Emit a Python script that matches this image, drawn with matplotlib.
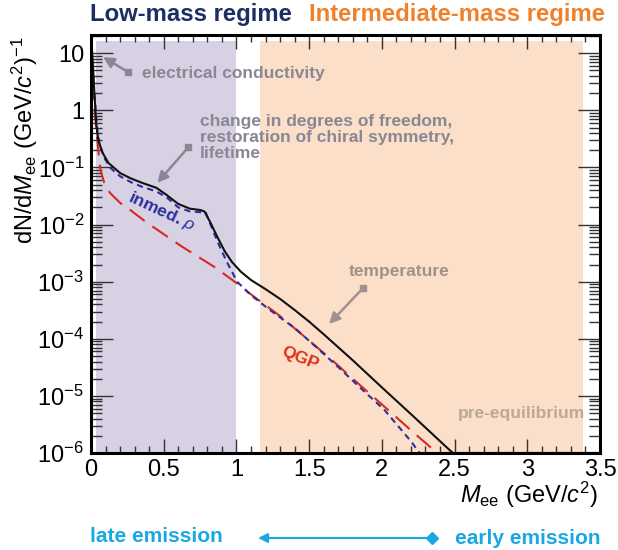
import matplotlib
matplotlib.use("Agg")
import matplotlib.pyplot as plt
import numpy as np
from matplotlib.ticker import FixedLocator, MultipleLocator, LogLocator, NullFormatter, FuncFormatter
from matplotlib.patches import FancyArrowPatch
from matplotlib.lines import Line2D

plt.rcParams['font.family'] = ['Liberation Sans', 'DejaVu Sans']
plt.rcParams['mathtext.fontset'] = 'custom'
plt.rcParams['mathtext.rm'] = 'Liberation Sans'
plt.rcParams['mathtext.it'] = 'Liberation Sans:italic'
plt.rcParams['mathtext.bf'] = 'Liberation Sans:bold'

# ---- dilepton mass spectra ----
m_total = [0.005, 0.02, 0.035, 0.05, 0.08, 0.12, 0.2, 0.27, 0.35, 0.45, 0.52, 0.6, 0.68,
           0.75, 0.78, 0.82, 0.87, 0.92, 0.97, 1.03, 1.1, 1.2, 1.3, 1.4, 1.5, 1.6, 1.7,
           1.8, 2.0, 2.2, 2.47, 2.49, 3.5]
dn_total = [14, 3.0, 0.6, 0.3, 0.18, 0.12, 0.08, 0.065, 0.054, 0.044, 0.033, 0.023, 0.019,
            0.018, 0.017, 0.011, 0.006, 0.0034, 0.0022, 0.0015, 1.07e-3, 7.4e-4, 5.0e-4,
            3.2e-4, 2.0e-4, 1.2e-4, 7.1e-5, 4.2e-5, 1.41e-5, 4.8e-6, 1.1e-6, 1e-6, 1e-6]

m_rho = [0.005, 0.02, 0.03, 0.045, 0.06, 0.09, 0.13, 0.2, 0.27, 0.35, 0.45, 0.52, 0.6,
         0.68, 0.75, 0.79, 0.87, 0.935, 1.005, 1.1, 1.23, 1.4, 1.55, 1.7, 1.85, 2.02,
         2.12, 2.2, 2.26, 3.5]
dn_rho = [11, 2.5, 1.2, 0.4, 0.25, 0.15, 0.1, 0.07, 0.056, 0.046, 0.038, 0.03, 0.02,
          0.017, 0.0165, 0.016, 0.005, 0.0022, 1.0e-3, 5.8e-4, 3.2e-4, 1.55e-4, 7.1e-5,
          3.2e-5, 1.4e-5, 5.6e-6, 2.8e-6, 1.6e-6, 1e-6, 1e-6]

m_qgp = [0.005, 0.02, 0.035, 0.05, 0.065, 0.09, 0.13, 0.2, 0.27, 0.38, 0.5, 0.62, 0.74,
         0.85, 1.0, 1.1, 1.3, 1.5, 1.65, 1.8, 2.0, 2.2, 2.38, 3.5]
dn_qgp = [3.3, 1.5, 0.5, 0.2, 0.09, 0.055, 0.036, 0.024, 0.018, 0.011, 0.0068, 0.0042,
          0.0027, 0.0018, 9.5e-4, 6e-4, 2.5e-4, 9.3e-5, 4.4e-5, 2.0e-5, 7.1e-6, 2.5e-6, 1e-6, 1e-6]

x_ticks = [0, 0.5, 1, 1.5, 2, 2.5, 3, 3.5]
x_tick_labels = ['0', '0.5', '1', '1.5', '2', '2.5', '3', '3.5']
y_decades = [1e-6, 1e-5, 1e-4, 1e-3, 1e-2, 1e-1, 1, 10]

fig = plt.figure(figsize=(6.18, 5.5), dpi=100)
W, H = 618, 550
L, R, T, B = 91, 600, 35, 453
ax = fig.add_axes([L / W, 1 - B / H, (R - L) / W, (B - T) / H])
ax.set_yscale('log')
ax.set_xlim(0, 3.5)
ax.set_ylim(1e-6, 20.9)

# mass regions
ax.axvspan(0.032, 1.0, ymin=0, ymax=0.986, color='#d8d1e4', lw=0, zorder=0)
ax.axvspan(1.16, 3.384, ymin=0, ymax=0.986, color='#fbdfc8', lw=0, zorder=0)

ax.plot(m_qgp, dn_qgp, color='#d42a22', lw=1.5, dashes=(9, 4.5), zorder=3, clip_on=False)
ax.plot(m_rho, dn_rho, color='#2b2f9e', lw=1.5, dashes=(3, 2.2), zorder=4, clip_on=False)
ax.plot(m_total, dn_total, color='#111111', lw=1.5, zorder=5, clip_on=False)

# ticks
for s in ax.spines.values():
    s.set_linewidth(2.2)
    s.set_zorder(10)
ax.xaxis.set_major_locator(FixedLocator(x_ticks))
ax.set_xticklabels(x_tick_labels)
ax.xaxis.set_minor_locator(MultipleLocator(0.1))
ax.yaxis.set_major_locator(FixedLocator(y_decades))
ax.yaxis.set_minor_locator(LogLocator(base=10, subs=np.arange(2, 10), numticks=20))
ax.yaxis.set_minor_formatter(NullFormatter())


def ylab(v, pos):
    e = int(round(np.log10(v)))
    if e == 1:
        return '10'
    if e == 0:
        return '1'
    return r'$10^{%d}$' % e


ax.yaxis.set_major_formatter(FuncFormatter(ylab))
ax.tick_params(which='both', direction='in', top=True, right=True, labelsize=17, color='#333333')
ax.tick_params(axis='x', which='major', length=10, width=1, pad=4)
ax.tick_params(axis='x', which='minor', length=5, width=1)
ax.tick_params(axis='y', which='major', length=16, width=1, pad=5)
ax.tick_params(axis='y', which='minor', length=8, width=1)

# axis titles
fig.text(25 / W, 1 - 140 / H, r'dN/d$M_{\rm ee}$ (GeV/$c^2$)$^{-1}$', rotation=90,
         ha='center', va='center', fontsize=17)
fig.text(598 / W, 1 - 495 / H, r'$M_{\rm ee}$ (GeV/$c^2$)', ha='right', va='center', fontsize=17)

# regime headers
fig.text(90 / W, 1 - 15 / H, 'Low-mass regime', color='#1b2f66', fontsize=17.2,
         fontweight='bold', ha='left', va='center')
fig.text(309 / W, 1 - 15 / H, 'Intermediate-mass regime', color='#f0812a', fontsize=17.2,
         fontweight='bold', ha='left', va='center')

# physics annotations
gray = '#8a8794'
gray_o = '#a0928a'


def pointer(tail, head, col):
    ax.annotate('', xy=head, xytext=tail,
                arrowprops=dict(arrowstyle='-|>', color=col, lw=1.8, mutation_scale=16,
                                shrinkA=0, shrinkB=0), zorder=6)
    ax.plot([tail[0]], [tail[1]], marker='s', ms=5, color=col, zorder=6)


ax.text(0.351, 4.5, 'electrical conductivity', color=gray, fontsize=12.5,
        fontweight='bold', ha='left', va='center', zorder=6)
pointer((0.254, 4.7), (0.083, 8.6), gray)

ax.text(0.75, 0.87, 'change in degrees of freedom,\nrestoration of chiral symmetry,\nlifetime',
        color=gray, fontsize=12.5, fontweight='bold', ha='left', va='top',
        linespacing=1.1, zorder=6)
pointer((0.669, 0.226), (0.456, 0.054), gray)

ax.text(2.118, 1.48e-3, 'temperature', color=gray_o, fontsize=12.5, fontweight='bold',
        ha='center', va='center', zorder=6)
pointer((1.869, 7.65e-4), (1.637, 1.82e-4), gray_o)

ax.text(2.957, 5e-6, 'pre-equilibrium', color='#bca898', fontsize=12.5, fontweight='bold',
        ha='center', va='center', zorder=6)

ax.text(1.437, 4.6e-5, 'QGP', color='#e0301e', fontsize=12.5, fontweight='bold',
        rotation=-22, ha='center', va='center', zorder=6)
ax.text(0.488, 0.0167, r'inmed. $\rho$', color='#2b2f9e', fontsize=12.5, fontweight='bold',
        rotation=-25, ha='center', va='center', zorder=6)

# emission time arrow
cyan = '#1aa8e3'
fig.text(90 / W, 1 - 537 / H, 'late emission', color=cyan, fontsize=15, fontweight='bold',
         ha='left', va='center')
fig.text(455 / W, 1 - 539 / H, 'early emission', color=cyan, fontsize=15, fontweight='bold',
         ha='left', va='center')
arr = FancyArrowPatch((430 / W, 1 - 538 / H), (258 / W, 1 - 538 / H),
                      transform=fig.transFigure, arrowstyle='-|>', mutation_scale=14,
                      color=cyan, lw=1.5, shrinkA=0, shrinkB=0)
fig.add_artist(arr)
fig.add_artist(Line2D([432 / W], [1 - 538 / H], marker='D', ms=6, color=cyan,
                      transform=fig.transFigure))

fig.savefig('out.png', dpi=100)
